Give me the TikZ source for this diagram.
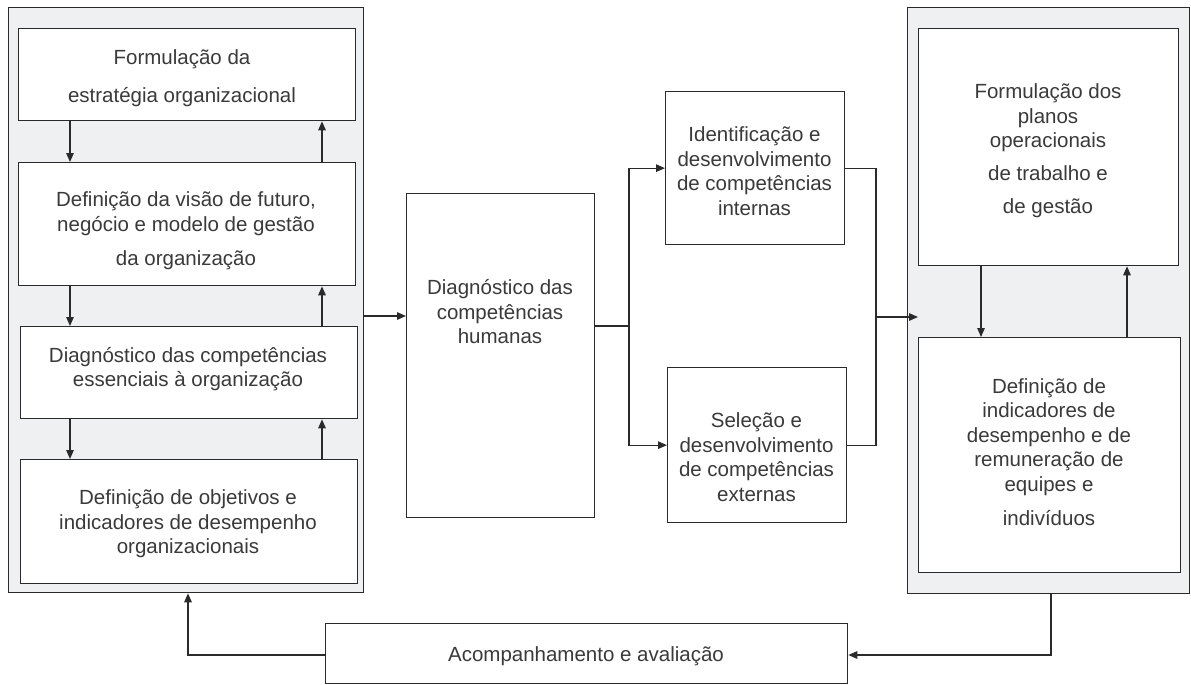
\documentclass[tikz,border=0pt]{standalone}
\usepackage{fontspec}
\setmainfont{Liberation Sans}
\usetikzlibrary{arrows.meta}
\definecolor{ln}{HTML}{2A2A2A}
\definecolor{tx}{HTML}{3A3A3A}
\definecolor{panel}{HTML}{EEF0F2}
\tikzset{
  panelbox/.style={draw=ln, line width=1.3pt, fill=panel, inner sep=0pt, anchor=north west},
  stepbox/.style={draw=ln, line width=1.3pt, fill=white, inner sep=0pt, anchor=north west},
  lbl/.style={text=tx, font=\fontsize{20.5}{24.5}\selectfont, align=center, inner sep=0pt},
  conn/.style={draw=ln, line width=1.3pt},
  arr/.style={conn, -{Triangle[length=9pt,width=7.5pt]}},
}
\begin{document}
\begin{tikzpicture}[x=1pt,y=-1pt]
\useasboundingbox (0,0) rectangle (1191,685);
\fill[white] (0,0) rectangle (1191,685);

% helper coordinates
\coordinate (xa) at (70,0);
\coordinate (xb) at (322,0);
\coordinate (yin) at (0,316);
\coordinate (split) at (629,326);
\coordinate (mg) at (876,317);
\coordinate (xc) at (981,0);
\coordinate (xd) at (1127,0);
\coordinate (fbR) at (1051,655);
\coordinate (fbL) at (188,0);

% left panel
\node[panelbox, minimum width=355pt, minimum height=585pt] (PL) at (8,7) {};
\node[stepbox, minimum width=337pt, minimum height=92pt] (b1) at (18,28) {};
\node[lbl] (t1) at (182,78) {Formulação da\\[13pt]estratégia organizacional};
\node[stepbox, minimum width=337pt, minimum height=123pt] (b2) at (18,162) {};
\node[lbl] (t2) at (186,231) {Definição da visão de futuro,\\negócio e modelo de gestão\\[10pt]da organização};
\node[stepbox, minimum width=337pt, minimum height=92pt] (b3) at (20,326) {};
\node[lbl] (t3) at (188,369) {Diagnóstico das competências\\essenciais à organização};
\node[stepbox, minimum width=337pt, minimum height=124pt] (b4) at (20,459) {};
\node[lbl] (t4) at (188,524) {Definição de objetivos e\\indicadores de desempenho\\organizacionais};

\draw[arr] (b1.south -| xa) -- (b2.north -| xa);
\draw[arr] (b2.south -| xa) -- (b3.north -| xa);
\draw[arr] (b3.south -| xa) -- (b4.north -| xa);
\draw[arr] (b2.north -| xb) -- (b1.south -| xb);
\draw[arr] (b3.north -| xb) -- (b2.south -| xb);
\draw[arr] (b4.north -| xb) -- (b3.south -| xb);

% middle
\node[stepbox, minimum width=188pt, minimum height=324pt] (diag) at (406,193) {};
\node[lbl] (dt) at (500,312) {Diagnóstico das\\competências\\humanas};
\node[stepbox, minimum width=179pt, minimum height=153pt] (ident) at (665,91) {};
\node[lbl] (it) at (754.5,171) {Identificação e\\desenvolvimento\\de competências\\internas};
\node[stepbox, minimum width=179pt, minimum height=155pt] (sel) at (667,367) {};
\node[lbl] (st) at (756.5,457) {Seleção e\\desenvolvimento\\de competências\\externas};

\draw[arr] (PL.east |- yin) -- (diag.west |- yin);
\draw[conn] (split -| diag.east) -- (split);
\draw[arr] (split) |- (ident.west);
\draw[arr] (split) |- (sel.west);

% right panel
\node[panelbox, minimum width=282pt, minimum height=586pt] (PR) at (907,7) {};
\node[stepbox, minimum width=260pt, minimum height=237pt] (ru) at (918,28) {};
\node[lbl] (rut) at (1048,151) {Formulação dos\\planos\\operacionais\\[8pt]de trabalho e\\[9pt]de gestão};
\node[stepbox, minimum width=262pt, minimum height=235pt] (rl) at (918,337) {};
\node[lbl] (rlt) at (1049,452) {Definição de\\indicadores de\\desempenho e de\\remuneração de\\equipes e\\[10pt]indivíduos};

\draw[conn] (ident.east) -| (mg);
\draw[conn] (sel.east) -| (mg);
\draw[arr] (mg) -- (ru.west |- mg);

\draw[arr] (ru.south -| xc) -- (rl.north -| xc);
\draw[arr] (rl.north -| xd) -- (ru.south -| xd);

% bottom
\node[stepbox, minimum width=522pt, minimum height=60pt] (acomp) at (325,623) {};
\node[lbl] (at) at (586,656) {Acompanhamento e avaliação};

\draw[arr] (PR.south -| fbR) |- (acomp.east |- fbR);
\draw[arr] (acomp.west |- fbR) -| (PL.south -| fbL);
\end{tikzpicture}
\end{document}
